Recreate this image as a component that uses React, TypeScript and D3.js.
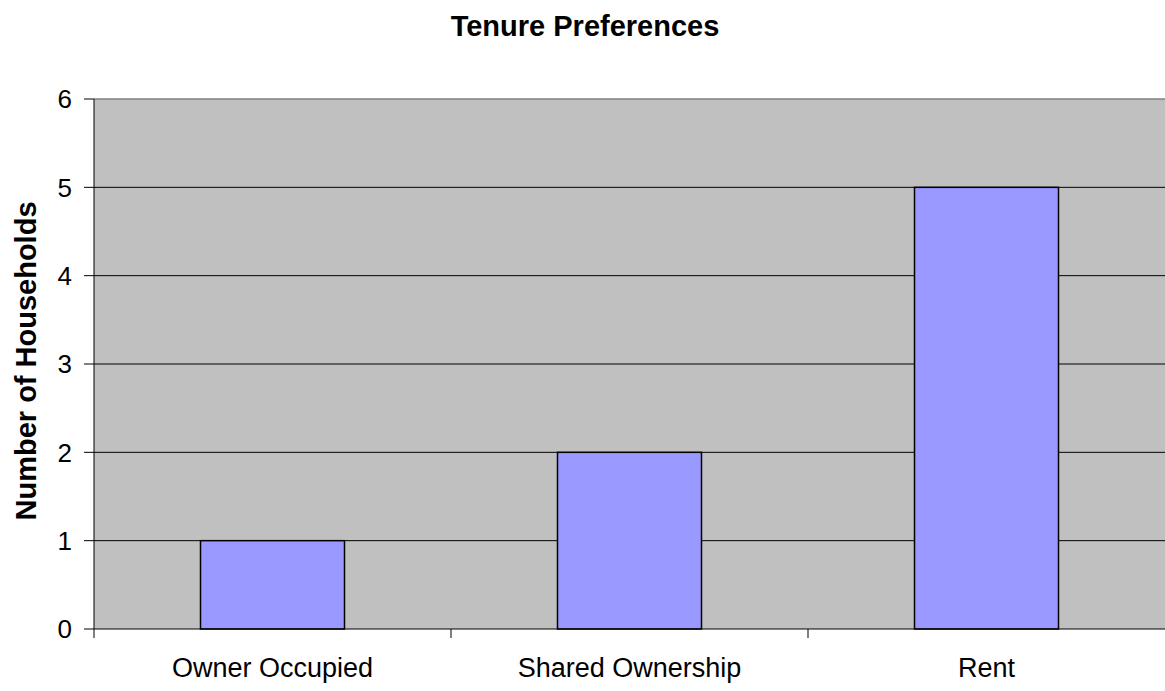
import React from 'react';
import * as d3 from 'd3';

const categories = ['Owner Occupied', 'Shared Ownership', 'Rent'];
const households = [1, 2, 5];
const yTicks = [0, 1, 2, 3, 4, 5, 6];

const W = 1165;
const H = 691;
const margin = { top: 99, right: 0, bottom: 62, left: 94 };
const font = '"Liberation Sans", Arial, sans-serif';

export default function App() {
  const innerW = W - margin.left - margin.right;
  const innerH = H - margin.top - margin.bottom;

  // one band per category, bar 144px wide centred in it
  const x = d3.scaleBand().domain(categories).range([0, innerW]).padding(0);
  const y = d3.scaleLinear().domain([0, 6]).range([innerH, 0]);
  const barW = 144;

  return (
    <svg width={W} height={H} style={{ position: 'absolute', left: 0, top: 0 }} fontFamily={font}>
      <text x={585} y={36} textAnchor="middle" fontSize={29} fontWeight="bold">Tenure Preferences</text>
      <g transform={`translate(${margin.left},${margin.top})`}>
        <rect x={0} y={0} width={innerW} height={innerH} fill="#c0c0c0" />
        <line x1={0} x2={innerW} y1={0} y2={0} stroke="#808080" strokeWidth={1.5} />
        {yTicks.slice(1, -1).map(t => (
          <line key={t} x1={0} x2={innerW} y1={y(t)} y2={y(t)} stroke="#000" strokeWidth={1} />
        ))}
        {categories.map((c, i) => (
          <rect key={c} x={x(c)! + x.bandwidth() / 2 - barW / 2} y={y(households[i])} width={barW}
            height={innerH - y(households[i])} fill="#9999ff" stroke="#000" strokeWidth={1.5} />
        ))}
        <line x1={0} x2={0} y1={0} y2={innerH} stroke="#000" strokeWidth={1} />
        <line x1={0} x2={innerW} y1={innerH} y2={innerH} stroke="#000" strokeWidth={1} />
        {yTicks.map(t => (
          <g key={t}>
            <line x1={-10} x2={0} y1={y(t)} y2={y(t)} stroke="#000" />
            <text x={-22} y={y(t)} dy="0.36em" textAnchor="end" fontSize={26}>{t}</text>
          </g>
        ))}
        {categories.map(c => (
          <line key={c} x1={x(c)!} x2={x(c)!} y1={innerH} y2={innerH + 9} stroke="#000" />
        ))}
        {categories.map(c => (
          <text key={c} x={x(c)! + x.bandwidth() / 2} y={innerH + 48} textAnchor="middle" fontSize={27}>{c}</text>
        ))}
      </g>
      <text transform={`translate(36,${margin.top + innerH / 2 - 3}) rotate(-90)`} textAnchor="middle" fontSize={29} fontWeight="bold">Number of Households</text>
    </svg>
  );
}
